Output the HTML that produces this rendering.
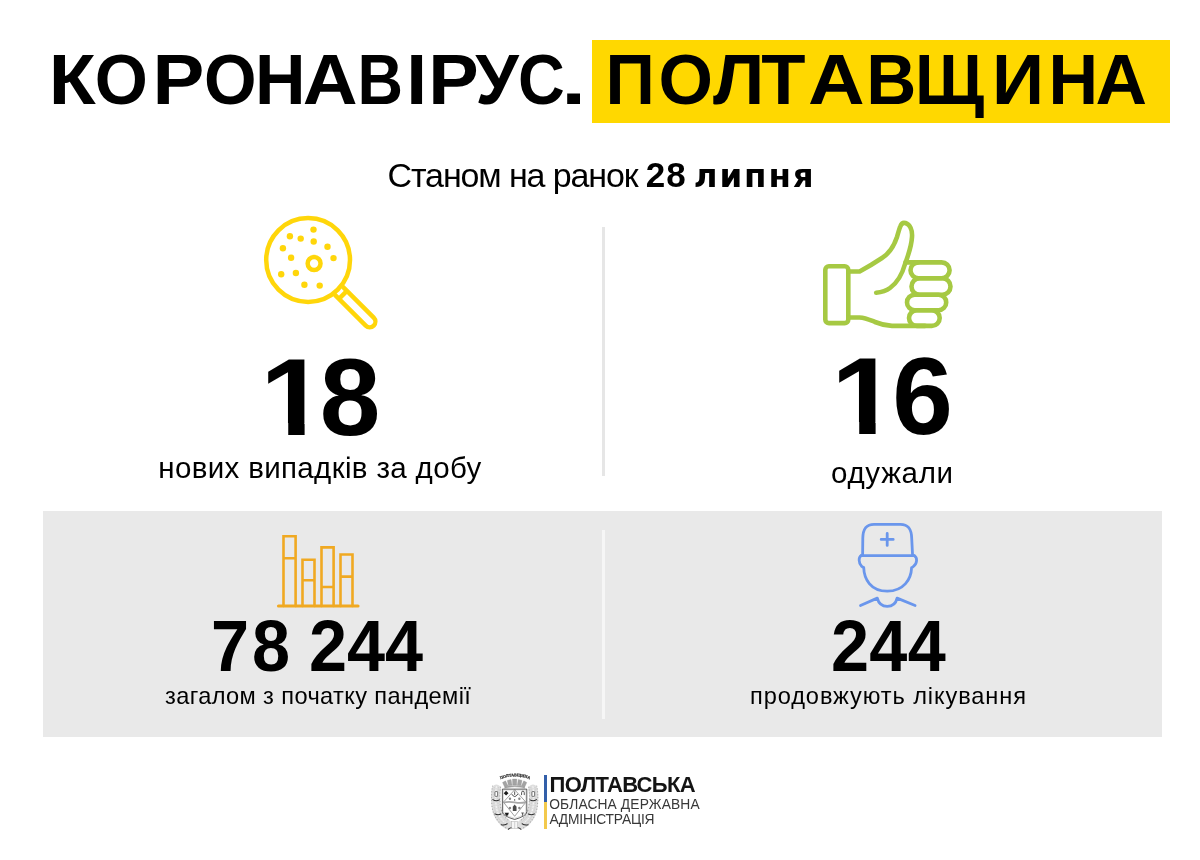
<!DOCTYPE html>
<html lang="uk">
<head>
<meta charset="utf-8">
<title>Коронавірус. Полтавщина</title>
<style>
html,body{margin:0;padding:0;}
body{width:1200px;height:860px;position:relative;overflow:hidden;background:#fff;
  font-family:"Liberation Sans","DejaVu Sans",sans-serif;color:#000;}
.t{position:absolute;white-space:nowrap;line-height:1;transform-origin:0 0;margin:0;}
.b{font-weight:bold;}
#banner{position:absolute;left:592px;top:40px;width:578px;height:83px;background:#ffd800;}
#panel{position:absolute;left:43px;top:511px;width:1119px;height:226px;background:#e9e9e9;}
.vline{position:absolute;width:3px;background:#e6e6e6;}
svg{position:absolute;overflow:visible;}
.g{display:inline-block;transform-origin:50% 50%;letter-spacing:0;}
.one{display:inline-block;transform:scaleX(1.1);transform-origin:0 0;clip-path:polygon(0 0,100% 0,100% 0.735em,0.372em 0.735em,0.372em 100%,0.2355em 100%,0.2355em 0.735em,0 0.735em);}
</style>
</head>
<body>
<div id="banner"></div>
<div id="panel"></div>
<div class="vline" style="left:602px;top:227px;height:249px;"></div>
<div class="vline" style="left:602px;top:530px;height:188.5px;background:#f6f6f6;"></div>

<svg id="icons" width="1200" height="860" viewBox="0 0 1200 860" style="left:0;top:0;" fill="none" stroke-linecap="round" stroke-linejoin="round">
  <!-- magnifier -->
  <g stroke="#ffd60a" stroke-width="4.5">
    <circle cx="308.1" cy="260" r="41.9"/>
    <circle cx="314.1" cy="263.5" r="6.45"/>
    <g transform="translate(308.1 260) rotate(45)" stroke-width="4.4">
      <path d="M43.6,-5.65 L87.15,-5.65 A5.65,5.65 0 0 1 87.15,5.65 L43.6,5.65"/>
      <path d="M49.3,-5.65 L49.3,5.65" stroke-linecap="butt"/>
    </g>
    <g fill="#ffd60a" stroke="none">
      <circle cx="313.5" cy="229.6" r="3.2"/><circle cx="289.9" cy="236.3" r="3.2"/>
      <circle cx="300.7" cy="238.6" r="3.2"/><circle cx="313.7" cy="241.5" r="3.2"/>
      <circle cx="327.5" cy="246.8" r="3.2"/><circle cx="282.9" cy="248.2" r="3.2"/>
      <circle cx="291.1" cy="257.8" r="3.2"/><circle cx="333.5" cy="258.1" r="3.2"/>
      <circle cx="281.2" cy="274.2" r="3.2"/><circle cx="295.9" cy="273" r="3.2"/>
      <circle cx="304.4" cy="284.8" r="3.2"/><circle cx="319.7" cy="285.6" r="3.2"/>
    </g>
  </g>
  <!-- thumbs up -->
  <g stroke="#a6c943" stroke-width="4.6">
    <rect x="825.3" y="266.3" width="23" height="56.8" rx="3.6"/>
    <path d="M848.3,271.5 L859.6,271.5 C866,268 876,262 882,258 C890,253 894,246 897,237 C898.5,232 899.5,228 900.5,226 C901.5,223 903.5,222.5 905.5,223 C910,224.5 912.5,230 912,237 C911.5,246 908,256 905.2,263.5 C902,275 897,283 890,288 C886,291 881,292.3 876.2,292.8"/>
    <path d="M905.5,262.4 L918,262.4"/>
    <path d="M848.3,317.5 L859.5,317.5 C866,317.8 870,320 875,322 C881,324.5 886,325.7 892,325.9 L925,325.9"/>
    <rect x="910.5" y="262.4" width="39.1" height="15.9" rx="7.95"/>
    <rect x="911.5" y="278.3" width="39" height="16.4" rx="8.2"/>
    <rect x="907" y="294.7" width="39.2" height="15.5" rx="7.75"/>
    <rect x="909" y="310.2" width="30.7" height="15.7" rx="7.85"/>
  </g>
  <!-- bar chart -->
  <g stroke="#f0a922" stroke-width="2.6" stroke-linejoin="miter">
    <path d="M278.5,606 L358,606" stroke-width="3.1"/>
    <path d="M283.5,606 V536.2 H295.6 V606 M283.5,558.3 H295.6"/>
    <path d="M302.5,606 V559.8 H314.5 V606 M302.5,580.3 H314.5"/>
    <path d="M321.5,606 V547.4 H333.6 V606 M321.5,587 H333.6"/>
    <path d="M340.5,606 V554.5 H352.5 V606 M340.5,576.6 H352.5"/>
  </g>
  <!-- doctor -->
  <g stroke="#6a96ec" stroke-width="2.8">
    <path d="M862.6,555.7 L862.8,538.3 C862.9,529 866,524.3 874,524.3 L900.4,524.3 C908.4,524.3 911.5,529 911.7,538.3 L912.6,555.7"/>
    <path d="M861,555.7 L914.3,555.7"/>
    <path d="M861,555.7 C858.6,557 858.3,563 861.6,566.2 C862.3,566.9 863,567.2 863.7,567.3 C864,579 870.5,591 887.2,591.2 C904,591 911.2,579 911.6,567.6 C912.4,567.4 913,567 913.7,566.2 C917.6,563 917.3,557 914.3,555.7"/>
    <path d="M860.5,605.5 L877.3,598.1 C878.5,603 882,606.3 887.2,606.3 C892.4,606.3 896,603 897.1,598.1 L915.1,605.5"/>
    <path d="M881.2,539.4 H893.2 M887.2,533.4 V545.4"/>
  </g>
</svg>

<h1 class="t b" id="h1a" style="left:50.7px;top:45px;font-size:70px;letter-spacing:0;font-kerning:none;"><span class="g" style="margin-right:0.80px;transform:scaleX(1.100);">К</span><span class="g" style="margin-right:6.05px;transform:scaleX(0.975);">О</span><span class="g" style="margin-right:1.75px;transform:scaleX(1.110);">Р</span><span class="g" style="margin-right:-2.70px;transform:scaleX(0.965);">О</span><span class="g" style="margin-right:-0.10px;">Н</span><span class="g" style="margin-right:-0.85px;transform:scaleX(1.085);">А</span><span class="g" style="margin-right:1.75px;transform:scaleX(0.900);">В</span><span class="g" style="margin-right:3.20px;transform:scaleX(1.070);">І</span><span class="g" style="margin-right:-1.60px;transform:scaleX(1.080);">Р</span><span class="g" style="margin-right:-2.75px;">У</span><span class="g" style="margin-right:-2.10px;transform:scaleX(0.925);">С</span><span class="g" style="margin-right:0.90px;transform:scaleX(1.300);">.</span></h1>
<h1 class="t b" id="h1b" style="left:605.0px;top:45px;font-size:70px;letter-spacing:0;font-kerning:none;"><span class="g" style="margin-right:3.20px;transform:scaleX(0.980);">П</span><span class="g" style="margin-right:1.20px;">О</span><span class="g" style="margin-right:-0.80px;transform:scaleX(1.045);">Л</span><span class="g" style="margin-right:6.20px;transform:scaleX(1.035);">Т</span><span class="g" style="margin-right:3.70px;transform:scaleX(1.120);">А</span><span class="g" style="margin-right:-2.30px;transform:scaleX(0.990);">В</span><span class="g" style="margin-right:8.20px;transform:scaleX(0.970);">Щ</span><span class="g" style="margin-right:4.20px;transform:scaleX(1.035);">И</span><span class="g" style="margin-right:-2.30px;transform:scaleX(0.980);">Н</span><span class="g" style="margin-right:3.20px;transform:scaleX(1.020);">А</span></h1>

<p class="t" id="sub" style="left:387.6px;top:157.4px;font-size:34px;letter-spacing:-1.12px;">Станом на ранок <b style="font-size:35px;letter-spacing:1px;">28<span style="font-size:25px;letter-spacing:0;"> </span><span style="font-family:'DejaVu Sans','Liberation Sans',sans-serif;font-size:32.5px;letter-spacing:1.9px;">липня</span></b></p>

<div class="t b" id="n1" style="left:260px;top:343px;font-size:109px;letter-spacing:-1px;"><span class="one">1</span>8</div>
<div class="t" id="l1" style="left:158.3px;top:452.5px;font-size:29.5px;letter-spacing:0.35px;">нових випадків за добу</div>

<div class="t b" id="n2" style="left:831px;top:342px;font-size:109px;letter-spacing:0.5px;"><span class="one">1</span>6</div>
<div class="t" id="l2" style="left:831px;top:458px;font-size:29.5px;letter-spacing:0.7px;">одужали</div>

<div class="t b" id="n3" style="left:211px;top:609.5px;font-size:72px;letter-spacing:0px;transform:scaleX(0.95);"><span style="letter-spacing:3px">7</span>8 244</div>
<div class="t" id="l3" style="left:165px;top:685px;font-size:23.6px;letter-spacing:0.38px;">загалом з початку пандемії</div>

<div class="t b" id="n4" style="left:830.5px;top:609.5px;font-size:72px;letter-spacing:0.3px;transform:scaleX(0.95);">244</div>
<div class="t" id="l4" style="left:750px;top:684.7px;font-size:23.6px;letter-spacing:0.9px;">продовжують лікування</div>

<svg id="crest" width="58" height="64" viewBox="0 0 779 860" style="left:486px;top:770px;">
  <defs><path id="arc" d="M176,132 Q390,36 604,132"/></defs>
  <text font-family="'Liberation Serif','DejaVu Serif',serif" font-weight="bold" font-size="54" fill="#2c2c2c" stroke="#2c2c2c" stroke-width="3" letter-spacing="-1"><textPath href="#arc" startOffset="50%" text-anchor="middle">ПОЛТАВЩИНА</textPath></text>
  <!-- crown -->
  <g fill="#a3a3a3" stroke="#8e8e8e" stroke-width="4" stroke-linejoin="round">
    <path d="M252,232 L222,168 L262,146 L296,214 Z"/>
    <path d="M302,212 L286,140 L336,126 L350,204 Z"/>
    <path d="M358,202 L356,122 L414,122 L412,202 Z"/>
    <path d="M420,204 L434,126 L484,140 L468,212 Z"/>
    <path d="M474,214 L508,146 L548,168 L518,232 Z"/>
    <path d="M250,246 Q385,206 520,246 L516,226 Q385,190 254,226 Z"/>
  </g>
  <!-- wreaths -->
  <g fill="none" stroke-linecap="round">
    <path id="wl" d="M140,258 Q120,340 135,470 Q150,640 290,735" stroke="#dedede" stroke-width="125"/>
    <path id="wr" d="M630,258 Q650,340 635,470 Q620,640 480,735" stroke="#dedede" stroke-width="125"/>
    <g stroke="#b0b0b0" stroke-width="16" stroke-dasharray="3 36">
      <path d="M88,215 Q66,330 80,480 Q100,670 265,775"/>
      <path d="M195,230 Q178,330 192,470 Q205,610 320,690"/>
      <path d="M682,215 Q704,330 690,480 Q670,670 505,775"/>
      <path d="M575,230 Q592,330 578,470 Q565,610 450,690"/>
    </g>
    <g stroke="#ffffff" stroke-width="11" stroke-dasharray="14 30">
      <path d="M140,225 Q120,330 135,470 Q150,640 290,735"/>
      <path d="M630,225 Q650,330 635,470 Q620,640 480,735"/>
    </g>
    <g stroke="#bcbcbc" stroke-width="7" stroke-dasharray="8 22">
      <path d="M112,235 Q94,330 108,475 Q125,650 275,752"/>
      <path d="M168,235 Q150,330 163,468 Q178,622 305,712"/>
      <path d="M658,235 Q676,330 662,475 Q645,650 495,752"/>
      <path d="M602,235 Q620,330 607,468 Q592,622 465,712"/>
    </g>
  </g>
  <g fill="#fff" stroke="#4a4a4a" stroke-width="10">
    <rect x="120" y="290" width="36" height="64" rx="6"/><rect x="617" y="290" width="36" height="64" rx="6"/>
  </g>
  <g fill="none" stroke="#2a2a2a" stroke-width="14" stroke-linecap="round">
    <path d="M92,398 Q135,428 180,402"/><path d="M678,398 Q635,428 590,402"/>
    <path d="M120,590 Q160,612 200,592"/><path d="M650,590 Q610,612 570,592"/>
    <path d="M205,737 Q245,747 285,722"/><path d="M565,737 Q525,747 485,722"/>
    <path d="M300,797 Q325,772 350,777"/><path d="M470,797 Q445,772 420,777"/>
  </g>
  <rect x="345" y="690" width="80" height="95" fill="#f6f6f6" stroke="#a5a5a5" stroke-width="6"/>
  <path d="M385,695 V785" stroke="#a5a5a5" stroke-width="6"/>
  <!-- shield -->
  <path d="M220,257 H548 V560 Q545,620 385,665 Q225,620 220,560 Z" fill="#fff" stroke="#262626" stroke-width="10"/>
  <path d="M234,270 H534 V556 Q530,606 385,648 Q240,606 234,556 Z" fill="none" stroke="#6a6a6a" stroke-width="3"/>
  <path d="M385,266 L536,432 L385,622 L234,432 Z" fill="none" stroke="#2a2a2a" stroke-width="6"/>
  <path d="M238,438 Q300,420 385,436 Q470,452 532,432" fill="none" stroke="#a8a8a8" stroke-width="24"/>
  <g fill="#1c1c1c">
    <path d="M270,280 L302,312 L270,344 L238,312 Z"/>
    <path d="M253,573 H307 Q302,610 280,617 Q258,610 253,573 Z"/>
    <circle cx="385" cy="402" r="8"/>
  </g>
  <g fill="none" stroke="#1c1c1c" stroke-width="10">
    <path d="M478,337 V305 Q478,284 496,284 Q514,284 514,305 V337"/>
    <path d="M345,322 Q385,392 428,322"/>
    <path d="M385,288 V335"/>
  </g>
  <g fill="#858585">
    <circle cx="322" cy="386" r="16"/><circle cx="448" cy="386" r="16"/>
    <circle cx="322" cy="510" r="16"/><circle cx="448" cy="510" r="16"/>
    <path d="M360,552 V495 L385,462 L410,495 V552 Z" fill="#4a4a4a"/>
    <path d="M472,570 H510 L497,596 V614 H485 V596 Z" fill="#5a5a5a"/>
  </g>
</svg>

<div id="flagbar" style="position:absolute;left:544px;top:775px;width:2.6px;height:53.6px;background:linear-gradient(#335fa9 0,#335fa9 26.7px,#f3c94c 26.7px,#f3c94c 100%);"></div>
<div class="t b" id="g1" style="left:549.5px;top:774.2px;font-size:22px;letter-spacing:-0.62px;color:#141414;">ПОЛТАВСЬКА</div>
<div class="t" id="g2" style="left:549.2px;top:798.3px;font-size:13.8px;letter-spacing:0.12px;color:#383838;">ОБЛАСНА ДЕРЖАВНА</div>
<div class="t" id="g3" style="left:549.4px;top:813.2px;font-size:13.8px;letter-spacing:-0.2px;color:#383838;">АДМІНІСТРАЦІЯ</div>
</body>
</html>
